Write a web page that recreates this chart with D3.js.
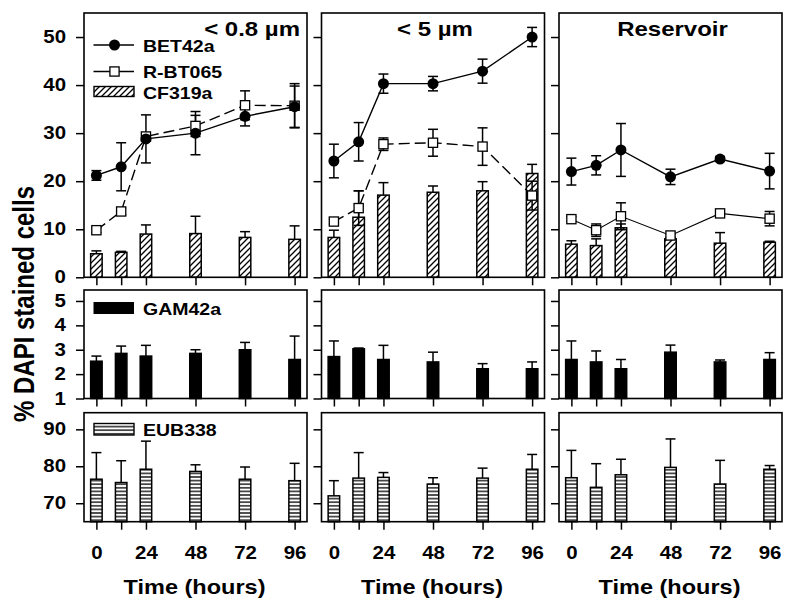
<!DOCTYPE html>
<html><head><meta charset="utf-8">
<script src="https://cdn.jsdelivr.net/npm/d3@7"></script>
<style>body{margin:0;background:#fff}</style>
</head><body>
<svg id="c" width="797" height="609"></svg>
<script>
// ---------------- data ----------------
const hours = [0, 12, 24, 48, 72, 96];
const xTickLabels = [0, 24, 48, 72, 96];
const panelTitles = ["< 0.8 µm", "< 5 µm", "Reservoir"];
const topTicks = [0, 10, 20, 30, 40, 50];
const midTicks = [1, 2, 3, 4, 5];
const botTicks = [70, 80, 90];
const yLabel = "% DAPI stained cells";
const xLabel = "Time (hours)";
const seriesNames = ["BET42a", "R-BT065", "CF319a", "GAM42a", "EUB338"];

// one inner array per panel: < 0.8 µm, < 5 µm, Reservoir
const bet42a = [
  [21.2, 23.0, 28.8, 30.0, 33.5, 35.5],
  [24.2, 28.2, 40.3, 40.3, 42.9, 50.0],
  [22.0, 23.3, 26.5, 20.9, 24.6, 22.1]
];
const bet42aErr = [
  [1.0, 5.0, 5.0, 4.5, 2.0, 4.3],
  [3.5, 4.0, 2.0, 1.5, 2.5, 2.0],
  [2.8, 2.0, 5.5, 1.6, 0.5, 3.7]
];
const rbt065 = [
  [9.8, 13.7, 29.3, 31.5, 35.8, 35.7],
  [11.6, 14.4, 27.7, 28.0, 27.2, 17.0],
  [12.1, 9.8, 12.7, 8.7, 13.3, 12.2]
];
const rbt065Err = [
  [0.5, 0.7, 0.8, 2.2, 3.0, 4.6],
  [0.5, 3.6, 1.3, 2.8, 3.9, 3.0],
  [0.5, 1.3, 2.8, 0.3, 0.3, 1.5]
];
const cf319a = [
  [4.9, 5.2, 9.0, 9.1, 8.3, 7.9],
  [8.3, 12.5, 17.1, 17.7, 18.0, 21.6],
  [6.9, 6.6, 10.3, 8.0, 7.1, 7.3]
];
const cf319aErr = [
  [0.6, 0.2, 1.9, 3.6, 1.2, 2.8],
  [1.5, 5.5, 2.6, 1.3, 1.9, 1.9],
  [0.7, 1.4, 0.8, 0.2, 2.2, 0.2]
];
const gam42a = [
  [2.53, 2.85, 2.74, 2.85, 3.0, 2.6],
  [2.72, 3.04, 2.6, 2.5, 2.22, 2.22],
  [2.6, 2.5, 2.22, 2.9, 2.5, 2.6]
];
const gam42aErr = [
  [0.21, 0.3, 0.44, 0.15, 0.3, 0.96],
  [0.64, 0.03, 0.58, 0.4, 0.21, 0.28],
  [0.76, 0.45, 0.38, 0.29, 0.08, 0.28]
];
const eub338 = [
  [76.5, 75.6, 79.2, 78.6, 76.5, 76.1],
  [72.0, 76.8, 77.0, 75.2, 76.8, 79.2],
  [76.9, 74.3, 77.7, 79.7, 75.2, 79.2]
];
const eub338Err = [
  [7.2, 5.9, 7.6, 1.8, 3.3, 4.7],
  [4.1, 6.9, 1.3, 1.7, 2.7, 4.0],
  [7.4, 6.4, 4.2, 7.7, 6.4, 1.0]
];

// ---------------- layout / style ----------------
const FONT = "'Liberation Sans', Arial, Helvetica, sans-serif";
const SX = 1.17;              // horizontal stretch of the original lettering
const panelLeft = [84, 321.5, 559];
const panelW = 223;
const xDomain = [-6, 102];
const rows = [
  { y0: 13,    y1: 277.3, dom: [0, 55],    ticks: topTicks },
  { y0: 290,   y1: 398.5, dom: [1, 5.45],  ticks: midTicks },
  { y0: 412.7, y1: 521.7, dom: [65, 94.5], ticks: botTicks }
];
const rbtDash = ["11,5", "11,5", null];
const rbtWidth = [1.4, 1.4, 1.1];
const barW = 11.5, capW = 10;

const svg = d3.select("#c");
svg.append("rect").attr("width", 797).attr("height", 609).attr("fill", "#fff");

const defs = svg.append("defs");
const diag = defs.append("pattern").attr("id", "diag").attr("patternUnits", "userSpaceOnUse")
  .attr("width", 6).attr("height", 6);
diag.append("rect").attr("width", 6).attr("height", 6).attr("fill", "#fff");
diag.append("path").attr("d", "M0,6 L6,0 M-1.5,1.5 L1.5,-1.5 M4.5,7.5 L7.5,4.5")
  .attr("stroke", "#000").attr("stroke-width", 1.3);
const horiz = defs.append("pattern").attr("id", "horiz").attr("patternUnits", "userSpaceOnUse")
  .attr("width", 6).attr("height", 3.6);
horiz.append("rect").attr("width", 6).attr("height", 3.6).attr("fill", "#fff");
horiz.append("path").attr("d", "M0,1.8 L6,1.8").attr("stroke", "#000").attr("stroke-width", 1.3);

function txt(g, x, y, s, size, anchor, sx = SX) {
  return g.append("text")
    .attr("transform", `translate(${x},${y}) scale(${sx},1)`)
    .attr("text-anchor", anchor)
    .attr("font-family", FONT).attr("font-weight", "bold").attr("font-size", size)
    .attr("fill", "#000").text(s);
}

function styleAxis(g) {
  g.select(".domain").remove();
  g.selectAll(".tick line").attr("stroke", "#000").attr("stroke-width", 1.5);
  g.selectAll(".tick text").attr("font-family", FONT).attr("font-weight", "bold")
    .attr("font-size", 17.5).attr("fill", "#000");
}

function bars(g, x, y, base, vals, errs, fill) {
  vals.forEach((v, i) => {
    const cx = x(hours[i]);
    const top = y(v + errs[i]);
    g.append("line").attr("x1", cx).attr("x2", cx).attr("y1", y(v)).attr("y2", top)
      .attr("stroke", "#000").attr("stroke-width", 1.5);
    g.append("line").attr("x1", cx - capW / 2).attr("x2", cx + capW / 2).attr("y1", top).attr("y2", top)
      .attr("stroke", "#000").attr("stroke-width", 1.5);
  });
  g.selectAll(null).data(vals).enter().append("rect")
    .attr("x", (d, i) => x(hours[i]) - barW / 2)
    .attr("width", barW)
    .attr("y", d => y(d))
    .attr("height", d => y(base) - y(d))
    .attr("fill", fill).attr("stroke", "#000").attr("stroke-width", 1.5);
}

function errBars(g, x, y, vals, errs) {
  vals.forEach((v, i) => {
    const cx = x(hours[i]);
    const a = y(v - errs[i]), b = y(v + errs[i]);
    g.append("line").attr("x1", cx).attr("x2", cx).attr("y1", a).attr("y2", b)
      .attr("stroke", "#000").attr("stroke-width", 1.5);
    [a, b].forEach(yy => g.append("line").attr("x1", cx - capW / 2).attr("x2", cx + capW / 2)
      .attr("y1", yy).attr("y2", yy).attr("stroke", "#000").attr("stroke-width", 1.5));
  });
}

for (let p = 0; p < 3; p++) {
  const L = panelLeft[p];
  const x = d3.scaleLinear().domain(xDomain).range([L, L + panelW]);
  rows.forEach((r, ri) => {
    const y = d3.scaleLinear().domain(r.dom).range([r.y1, r.y0]);
    const g = svg.append("g");

    // axes
    const ya = g.append("g").attr("transform", `translate(${L},0)`)
      .call(d3.axisLeft(y).tickValues(r.ticks).tickSize(8).tickPadding(10)
        .tickFormat(p === 0 ? d3.format("d") : () => ""));
    styleAxis(ya);
    ya.selectAll(".tick text").each(function () {
      const t = d3.select(this);
      t.attr("x", (+t.attr("x")) / SX).attr("transform", `scale(${SX},1)`);
    });
    const xa = g.append("g").attr("transform", `translate(0,${r.y1})`)
      .call(d3.axisBottom(x).tickValues(hours).tickSize(8).tickPadding(17)
        .tickFormat(ri === 2 ? (d => xTickLabels.includes(d) ? d : "") : () => ""));
    styleAxis(xa);
    xa.selectAll(".tick text").attr("transform", `scale(${SX},1)`);

    if (ri === 0) {
      bars(g, x, y, 0, cf319a[p], cf319aErr[p], "url(#diag)");
      errBars(g, x, y, rbt065[p], rbt065Err[p]);
      errBars(g, x, y, bet42a[p], bet42aErr[p]);
      const line = d3.line().x((d, i) => x(hours[i])).y(d => y(d));
      g.append("path").datum(rbt065[p]).attr("d", line).attr("fill", "none")
        .attr("stroke", "#000").attr("stroke-width", rbtWidth[p])
        .attr("stroke-dasharray", rbtDash[p]);
      g.append("path").datum(bet42a[p]).attr("d", line).attr("fill", "none")
        .attr("stroke", "#000").attr("stroke-width", 1.4);
      g.selectAll(null).data(rbt065[p]).enter().append("rect")
        .attr("x", (d, i) => x(hours[i]) - 4.6).attr("y", d => y(d) - 4.6)
        .attr("width", 9.2).attr("height", 9.2)
        .attr("fill", "#fff").attr("stroke", "#000").attr("stroke-width", 1.3);
      g.selectAll(null).data(bet42a[p]).enter().append("circle")
        .attr("cx", (d, i) => x(hours[i])).attr("cy", d => y(d)).attr("r", 5.5)
        .attr("fill", "#000");
    } else if (ri === 1) {
      bars(g, x, y, 1, gam42a[p], gam42aErr[p], "#000");
    } else {
      bars(g, x, y, 65, eub338[p], eub338Err[p], "url(#horiz)");
    }

    // frame
    g.append("rect").attr("x", L).attr("y", r.y0).attr("width", panelW).attr("height", r.y1 - r.y0)
      .attr("fill", "none").attr("stroke", "#000").attr("stroke-width", 1.6);
  });

  // panel title
  if (p === 0) txt(svg, L + panelW - 7, 35.5, panelTitles[p], 20, "end", 1.2);
  else txt(svg, L + panelW / 2 + 2, 35.5, panelTitles[p], 20, "middle", 1.2);

  // x label
  txt(svg, L + panelW / 2 - 1, 594, xLabel, 21, "middle", 1.12);
}

// legends (panel 1)
const lg = svg.append("g");
lg.append("line").attr("x1", 93.5).attr("x2", 134).attr("y1", 45).attr("y2", 45)
  .attr("stroke", "#000").attr("stroke-width", 1.4);
lg.append("circle").attr("cx", 114.5).attr("cy", 45).attr("r", 5.5).attr("fill", "#000");
txt(lg, 143, 52.3, seriesNames[0], 16, "start", 1.22);
lg.append("line").attr("x1", 93.5).attr("x2", 134).attr("y1", 71.5).attr("y2", 71.5)
  .attr("stroke", "#000").attr("stroke-width", 1.4);
lg.append("rect").attr("x", 109.9).attr("y", 66.9).attr("width", 9.2).attr("height", 9.2)
  .attr("fill", "#fff").attr("stroke", "#000").attr("stroke-width", 1.3);
txt(lg, 143, 77.5, seriesNames[1], 16, "start", 1.22);
lg.append("rect").attr("x", 94).attr("y", 86.5).attr("width", 40).attr("height", 10)
  .attr("fill", "url(#diag)").attr("stroke", "#000").attr("stroke-width", 1.4);
txt(lg, 143, 99, seriesNames[2], 16, "start", 1.22);
lg.append("rect").attr("x", 93.5).attr("y", 302).attr("width", 40.5).attr("height", 12)
  .attr("fill", "#000");
txt(lg, 143, 314.5, seriesNames[3], 16, "start", 1.22);
lg.append("rect").attr("x", 94).attr("y", 423.5).attr("width", 40).attr("height", 11.5)
  .attr("fill", "url(#horiz)").attr("stroke", "#000").attr("stroke-width", 1.4);
txt(lg, 143, 435.5, seriesNames[4], 16, "start", 1.22);

// y label
svg.append("text")
  .attr("transform", `translate(34,304) scale(1.25,1) rotate(-90)`)
  .attr("text-anchor", "middle")
  .attr("font-family", FONT).attr("font-weight", "bold").attr("font-size", 24)
  .attr("fill", "#000").text(yLabel);
</script>
</body></html>
